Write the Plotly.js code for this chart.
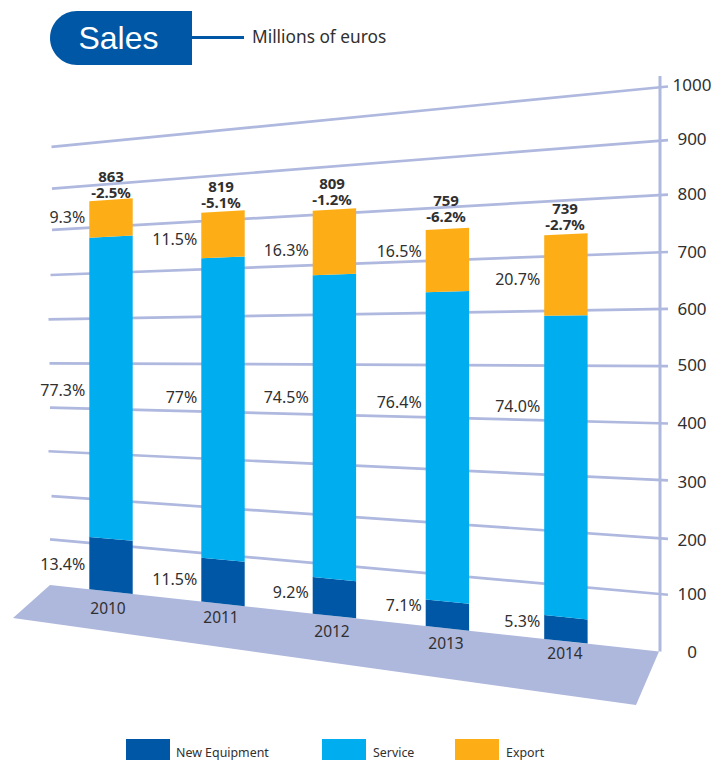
<!DOCTYPE html>
<html>
<head>
<meta charset="utf-8">
<script src="https://cdn.plot.ly/plotly-3.0.1.min.js"></script>
<style>html,body{margin:0;padding:0;background:#fff;overflow:hidden}#chart{width:717px;height:760px}</style>
</head>
<body>
<div id="chart"></div>
<script>
// ---- data ----
const years = ["2010", "2011", "2012", "2013", "2014"];
const newEquipment = [113, 90, 72, 50, 43];
const service = [665, 633, 608, 590, 548];
const exportSales = [85, 96, 129, 119, 148];
const totals = [863, 819, 809, 759, 739];
const changes = ["-2.5%", "-5.1%", "-1.2%", "-6.2%", "-2.7%"];
const newEquipmentShare = ["13.4%", "11.5%", "9.2%", "7.1%", "5.3%"];
const serviceShare = ["77.3%", "77%", "74.5%", "76.4%", "74.0%"];
const exportShare = ["9.3%", "11.5%", "16.3%", "16.5%", "20.7%"];
const axisValues = [0, 100, 200, 300, 400, 500, 600, 700, 800, 900, 1000];

// ---- placement and style ----
const NAVY = "#0057A5", CYAN = "#00AEEF", AMBER = "#FDAE17", LAV = "#AEB7DC", LAVLINE = "#AFB8DE", INK = "#303030";
const SANS = "'Noto Sans', 'Open Sans', sans-serif";
const TEXT_DY = 2;
const barLeft = [89.3, 201.3, 312.7, 425.7, 544.2];
const barWidth = 43.4;
const leftEdge = 50, rightEdge = 660, tickEnd = 668;
// where each axis value sits on the left and right walls of the drawn perspective
const wallLeftY = [585, 539.3, 496, 451.3, 407.7, 363.3, 319.3, 275, 230, 188.7, 147];
const wallRightY = [651.5, 594, 538.3, 480, 423.3, 366, 309, 252.3, 195, 140.7, 87.3];
const gridStartX = [50, 50, 51.5, 48.5, 50, 49.5, 48.5, 50.5, 52, 52, 51.5];
const axisLabelY = [652, 594, 540, 482, 423, 365, 309, 252, 194, 139, 85];
const yearPos = [[108, 608], [221, 617], [332, 631], [446, 643], [565, 653]];
const totalPos = [[111, 176], [221, 186], [332, 183], [446, 200], [565, 208]];
const exportLabelY = [217, 239, 250, 251, 279];
const serviceLabelY = [390, 397, 397, 402, 406];
const newLabelY = [564, 579, 592, 605, 621];

function wallY(ys, v) {
  const k = Math.min(Math.floor(v / 100), ys.length - 2);
  const f = v / 100 - k;
  return ys[k] + (ys[k + 1] - ys[k]) * f;
}
function proj(x, v) {
  const t = (x - leftEdge) / (rightEdge - leftEdge);
  const l = wallY(wallLeftY, v), r = wallY(wallRightY, v);
  return [x, l + (r - l) * t];
}
function poly(left, width, lo, hi, color, name) {
  const c = [proj(left, lo), proj(left + width, lo), proj(left + width, hi), proj(left, hi), proj(left, lo)];
  return {type: "scatter", mode: "lines", x: c.map(p => p[0]), y: c.map(p => p[1]), fill: "toself",
    fillcolor: color, line: {width: 0, color: color}, name: name, hoverinfo: "name", showlegend: false};
}
function textTrace(xs, ys, strs, pos, size, bold, name) {
  return {type: "scatter", mode: "text", x: xs, y: ys.map(y => y + TEXT_DY), text: strs, textposition: pos, name: name,
    textfont: {family: SANS, size: size, color: INK, weight: bold ? 700 : 400}, cliponaxis: false,
    hoverinfo: "skip", showlegend: false};
}

const traces = [];
// gridlines with their ticks (the zero line is the floor's edge)
axisValues.forEach((v, i) => {
  if (v === 0) return;
  const a = proj(gridStartX[i], v), b = proj(tickEnd, v);
  traces.push({type: "scatter", mode: "lines", x: [a[0], b[0]], y: [a[1], b[1]],
    line: {color: LAVLINE, width: 2.7}, hoverinfo: "skip", showlegend: false, name: "grid " + v});
});
// value axis line
const axisBottom = proj(rightEdge, 0), axisTopY = 76;
traces.push({type: "scatter", mode: "lines", x: [rightEdge, rightEdge], y: [axisBottom[1], axisTopY],
  line: {color: LAVLINE, width: 3}, hoverinfo: "skip", showlegend: false, name: "value axis"});
// stacked bars
years.forEach((yr, i) => {
  const a = newEquipment[i], b = a + service[i], c = b + exportSales[i];
  traces.push(poly(barLeft[i], barWidth, 0, a, NAVY, "New Equipment " + yr));
  traces.push(poly(barLeft[i], barWidth, a, b, CYAN, "Service " + yr));
  traces.push(poly(barLeft[i], barWidth, b, c, AMBER, "Export " + yr));
});
// share labels
const labelRight = barLeft.map(x => x - 4);
traces.push(textTrace(labelRight, exportLabelY, exportShare, "middle left", 16, false, "Export share"));
traces.push(textTrace(labelRight, serviceLabelY, serviceShare, "middle left", 16, false, "Service share"));
traces.push(textTrace(labelRight, newLabelY, newEquipmentShare, "middle left", 16, false, "New Equipment share"));
// totals and changes
traces.push(textTrace(totalPos.map(p => p[0]), totalPos.map(p => p[1]), totals.map(String), "middle center", 15, true, "Total"));
traces.push(textTrace(totalPos.map(p => p[0]), totalPos.map(p => p[1] + 16), changes, "middle center", 15, true, "Change"));
// year labels
traces.push(textTrace(yearPos.map(p => p[0]), yearPos.map(p => p[1]), years, "middle center", 15.5, false, "Years"));
// page texts
traces.push(textTrace([252], [37], ["Millions of euros"], "middle right", 17.3, false, "Unit"));
traces.push(textTrace([176, 373, 506], [752, 752, 752], ["New Equipment", "Service", "Export"], "middle right", 12.4, false, "Legend"));
traces.push({type: "scatter", mode: "text", x: [118.5], y: [41], text: ["Sales"], textposition: "middle center", name: "Title",
  textfont: {family: "'Liberation Sans', Arial, sans-serif", size: 32, color: "#fff"}, hoverinfo: "skip", showlegend: false});
// value-axis labels
traces.push(textTrace(axisValues.map(() => 692), axisLabelY, axisValues.map(String), "middle center", 17, false, "Value axis labels"));

const rect = (x0, y0, x1, y1, color) => ({type: "rect", layer: "below", xref: "x", yref: "y", x0, y0, x1, y1, fillcolor: color, line: {width: 0}});
const layout = {
  width: 717, height: 760,
  margin: {l: 0, r: 0, t: 0, b: 0},
  paper_bgcolor: "#fff", plot_bgcolor: "rgba(0,0,0,0)",
  showlegend: false,
  xaxis: {range: [0, 717], visible: false, fixedrange: true},
  yaxis: {range: [760, 0], visible: false, fixedrange: true},
  shapes: [
    {type: "path", layer: "below", xref: "x", yref: "y", path: "M 50 585 L 659 651.5 L 636 705 L 13 618 Z", fillcolor: LAV, line: {width: 0}},
    {type: "path", layer: "below", xref: "x", yref: "y", path: "M 192 11 L 77 11 C 62.1 11 50 23.1 50 38 C 50 52.9 62.1 65 77 65 L 192 65 Z", fillcolor: NAVY, line: {width: 0}},
    {type: "line", layer: "below", xref: "x", yref: "y", x0: 192, y0: 37.5, x1: 244, y1: 37.5, line: {color: NAVY, width: 3}},
    rect(126, 739, 170, 761, NAVY), rect(322, 739, 366, 761, CYAN), rect(455, 739, 499, 761, AMBER)
  ]
};
Plotly.newPlot("chart", traces, layout, {displayModeBar: false, staticPlot: true});
</script>
</body>
</html>
